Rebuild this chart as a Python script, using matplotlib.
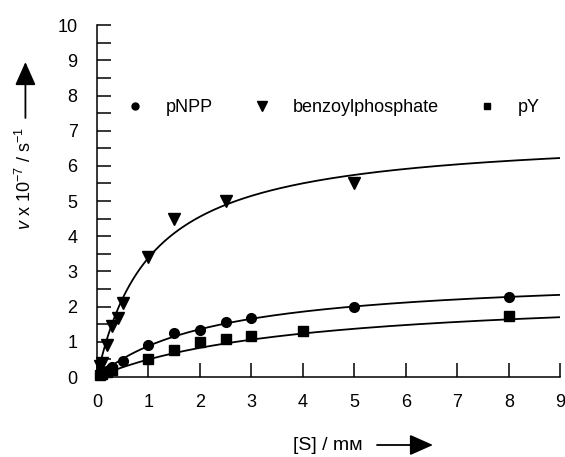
import numpy as np
import matplotlib
matplotlib.use("Agg")
import matplotlib.pyplot as plt

plt.rcParams['font.family'] = ['Liberation Sans', 'DejaVu Sans']
plt.rcParams['mathtext.fontset'] = 'custom'
plt.rcParams['mathtext.rm'] = 'Liberation Sans'
plt.rcParams['mathtext.it'] = 'Liberation Sans:italic'

s_pnpp = [0.05, 0.1, 0.2, 0.3, 0.5, 1.0, 1.5, 2.0, 2.5, 3.0, 5.0, 8.0]
v_pnpp = [0.08, 0.12, 0.18, 0.28, 0.45, 0.9, 1.26, 1.33, 1.57, 1.68, 2.0, 2.28]

s_benz = [0.05, 0.1, 0.2, 0.3, 0.4, 0.5, 1.0, 1.5, 2.5, 5.0]
v_benz = [0.32, 0.4, 0.9, 1.45, 1.68, 2.1, 3.4, 4.5, 5.0, 5.52]

s_py = [0.05, 0.1, 0.2, 0.3, 1.0, 1.5, 2.0, 2.5, 3.0, 4.0, 8.0]
v_py = [0.05, 0.1, 0.15, 0.2, 0.5, 0.76, 1.0, 1.07, 1.16, 1.3, 1.72]

# Michaelis-Menten fits (Vmax, Km) matched to the drawn curves
fit_pnpp = (2.94, 2.33)
fit_benz = (6.95, 1.05)
fit_py = (2.43, 3.86)

fig = plt.figure(figsize=(5.65, 4.57), dpi=100)
ax = fig.add_axes([0.1717, 0.175, 0.82, 0.77])

xs = np.linspace(0, 9, 400)
for vmax, km in (fit_pnpp, fit_benz, fit_py):
    ax.plot(xs, vmax * xs / (km + xs), color='black', lw=1.3, zorder=2)

ax.plot(s_pnpp, v_pnpp, 'o', color='black', ms=7, ls='none', zorder=3, clip_on=False)
ax.plot(s_benz, v_benz, 'v', color='black', ms=8.5, ls='none', zorder=3, clip_on=False)
ax.plot(s_py, v_py, 's', color='black', ms=6.5, ls='none', zorder=3, clip_on=False)

# legend handles (smaller markers)
h1, = ax.plot([], [], 'o', color='black', ms=5)
h2, = ax.plot([], [], 'v', color='black', ms=6.5)
h3, = ax.plot([], [], 's', color='black', ms=5)
ax.legend([h1, h2, h3], ['pNPP', 'benzoylphosphate', 'pY'], ncol=3, frameon=False,
          loc='center left', bbox_to_anchor=(0.063, 0.765), borderpad=0, borderaxespad=0,
          handlelength=1.0, handletextpad=1.2, columnspacing=2.2, fontsize=13)

ax.set_xlim(0, 9)
ax.set_ylim(0, 10)
ax.set_xticks(range(0, 10))
ax.set_yticks(range(0, 11))
ax.set_yticks(np.arange(0.5, 10, 1.0), minor=True)
ax.tick_params(axis='both', which='both', direction='in', length=10, width=1.1,
               labelsize=13, color='black')
ax.tick_params(axis='x', pad=12)
ax.tick_params(axis='y', pad=14)
for side in ('top', 'right'):
    ax.spines[side].set_visible(False)
for side in ('left', 'bottom'):
    ax.spines[side].set_linewidth(1.1)

arrow_style = '-|>,head_length=0.9,head_width=0.4'

# axis titles with arrows
fig.text(0.045, 0.61, r'$v$ x 10$^{-7}$ / s$^{-1}$', rotation=90, fontsize=13,
         ha='center', va='center')
fig.add_artist(matplotlib.patches.FancyArrowPatch(
    (0.045, 1 - 118 / 457), (0.045, 1 - 62 / 457), transform=fig.transFigure,
    arrowstyle=arrow_style, mutation_scale=16, shrinkA=0, shrinkB=0,
    color='black', lw=1.3))

fig.text(293 / 565, 1 - 446 / 457, '[S] / m\u1d0d', fontsize=14, ha='left', va='center')
fig.add_artist(matplotlib.patches.FancyArrowPatch(
    (377 / 565, 1 - 445 / 457), (433 / 565, 1 - 445 / 457), transform=fig.transFigure,
    arrowstyle=arrow_style, mutation_scale=16, shrinkA=0, shrinkB=0,
    color='black', lw=1.3))

fig.savefig('out.png', dpi=100)
